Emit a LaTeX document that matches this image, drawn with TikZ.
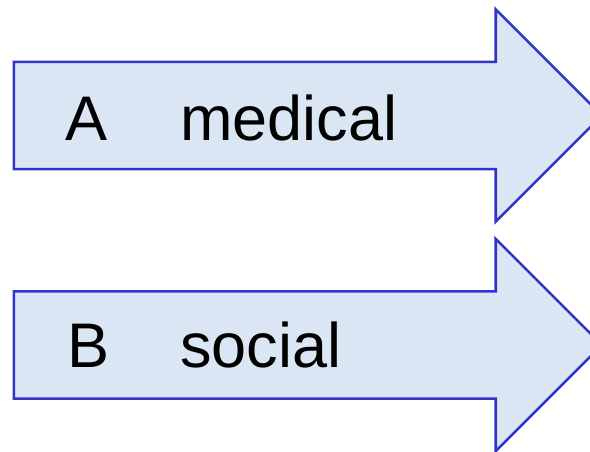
\documentclass[tikz,border=0pt]{standalone}
\usepackage{fontspec}
\setmainfont{Liberation Sans}
\usetikzlibrary{shapes.arrows}
\definecolor{arrowfill}{RGB}{218,230,244}
\definecolor{arrowline}{RGB}{51,51,204}

\begin{document}
\begin{tikzpicture}[
  x=1pt, y=-1pt,
  bigarrow/.style={single arrow, draw=arrowline, line width=2.6pt, fill=arrowfill, inner xsep=0pt, inner ysep=52.3pt, minimum height=588pt, single arrow head extend=52.5pt, single arrow tip angle=90, anchor=west},
  lbl/.style={font=\fontsize{63}{70}\selectfont, inner sep=0pt, anchor=base west}
]
\useasboundingbox (0,0) rectangle (590,452);

\node[bigarrow] (arrowA) at (12.5,115.5) {};
\node[bigarrow] (arrowB) at (12.5,345) {};

\node[lbl] (letterA) at (65,140) {A};
\node[lbl] (wordA) at (180,140) {medical};
\node[lbl] (letterB) at (67,367) {B};
\node[lbl] (wordB) at (180,367) {social};

\end{tikzpicture}
\end{document}
